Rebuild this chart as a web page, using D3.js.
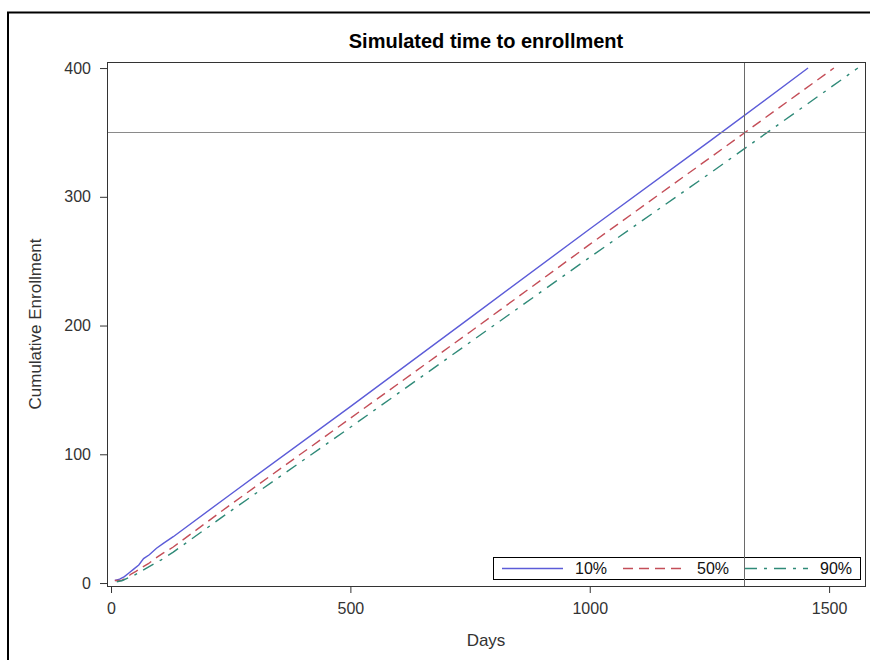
<!DOCTYPE html>
<html>
<head>
<meta charset="utf-8">
<script src="https://cdn.jsdelivr.net/npm/d3@7"></script>
<style>
  html, body { margin: 0; padding: 0; background: #fff; }
  svg { display: block; font-family: Arial, "Liberation Sans", sans-serif; }
</style>
</head>
<body>
<svg id="chart" width="870" height="660"></svg>
<script>
// ---- Data ----
const title = "Simulated time to enrollment";
const xLabel = "Days";
const yLabel = "Cumulative Enrollment";
const xTicks = [0, 500, 1000, 1500];
const yTicks = [0, 100, 200, 300, 400];
const seriesNames = ["10%", "50%", "90%"];

const days10 = [8, 18, 28, 38, 48, 58, 68, 80, 95, 110, 130, 250, 500, 750, 1000, 1250, 1456];
const enr10  = [2, 3, 5, 8, 11, 14, 19, 22, 27, 31, 36, 69, 137, 206, 275, 343, 400];

const days50 = [8, 22, 32, 42, 52, 64, 78, 92, 108, 130, 250, 500, 750, 1000, 1250, 1510];
const enr50  = [2, 2, 4, 7, 9, 12, 15, 19, 23, 28, 61, 128, 195, 263, 330, 400];

const days90 = [12, 24, 36, 48, 62, 76, 90, 105, 130, 250, 500, 750, 1000, 1250, 1560];
const enr90  = [1, 2, 4, 6, 9, 12, 15, 18, 24, 56, 121, 187, 253, 318, 400];

const refY = 350;   // horizontal reference line (target enrollment)
const refX = 1322;  // vertical reference line (median day reaching target)

// ---- Layout ----
const svg = d3.select("#chart");
const plot = { left: 107, right: 865, top: 62, bottom: 586 };

const x = d3.scaleLinear().domain([-8.4, 1575]).range([plot.left, plot.right]);
const y = d3.scaleLinear().domain([-2.3, 404.7]).range([plot.bottom, plot.top]);

// outer frame (cropped at right/bottom)
svg.append("rect")
  .attr("x", 8).attr("y", 12.5).attr("width", 900).attr("height", 700)
  .attr("fill", "none").attr("stroke", "#000").attr("stroke-width", 2);

// title
svg.append("text")
  .attr("x", (plot.left + plot.right) / 2).attr("y", 48)
  .attr("text-anchor", "middle")
  .attr("font-size", 20).attr("font-weight", "bold").attr("fill", "#000")
  .text(title);

// axes
const xAxis = d3.axisBottom(x).tickValues(xTicks).tickSize(7).tickPadding(10).tickFormat(d3.format("d"));
const yAxis = d3.axisLeft(y).tickValues(yTicks).tickSize(7).tickPadding(9).tickFormat(d3.format("d"));

const gx = svg.append("g").attr("transform", `translate(0,${plot.bottom})`).call(xAxis);
const gy = svg.append("g").attr("transform", `translate(${plot.left},0)`).call(yAxis);
[gx, gy].forEach(g => {
  g.select(".domain").remove();
  g.selectAll(".tick line").attr("stroke", "#333");
  g.selectAll(".tick text").attr("font-size", 16).attr("fill", "#333")
    .attr("font-family", "Arial, 'Liberation Sans', sans-serif");
});

// axis labels
svg.append("text")
  .attr("x", (plot.left + plot.right) / 2).attr("y", 646)
  .attr("text-anchor", "middle").attr("font-size", 17).attr("fill", "#333")
  .text(xLabel);
svg.append("text")
  .attr("transform", `translate(41,${(plot.top + plot.bottom) / 2}) rotate(-90)`)
  .attr("text-anchor", "middle").attr("font-size", 17).attr("fill", "#333")
  .text(yLabel);

// series
const colors = ["#5c5cd8", "#c44e58", "#2f8a78"];
const dashes = [null, "10,6", "12,7,3,7"];
const series = [
  { name: seriesNames[0], d: days10.map((v, i) => [v, enr10[i]]) },
  { name: seriesNames[1], d: days50.map((v, i) => [v, enr50[i]]) },
  { name: seriesNames[2], d: days90.map((v, i) => [v, enr90[i]]) }
];
const line = d3.line().x(d => x(d[0])).y(d => y(d[1]));
series.forEach((s, i) => {
  svg.append("path")
    .datum(s.d)
    .attr("d", line)
    .attr("fill", "none")
    .attr("stroke", colors[i])
    .attr("stroke-width", 1.4)
    .attr("stroke-dasharray", dashes[i]);
});

// legend
const lg = svg.append("g");
lg.append("rect")
  .attr("x", 493.5).attr("y", 557.5).attr("width", 367).attr("height", 22)
  .attr("fill", "#fff").attr("stroke", "#000").attr("stroke-width", 1);
const legItems = [
  { x1: 502, x2: 563, tx: 575 },
  { x1: 623, x2: 683, tx: 697 },
  { x1: 745, x2: 808, tx: 820 }
];
legItems.forEach((it, i) => {
  lg.append("line")
    .attr("x1", it.x1).attr("x2", it.x2).attr("y1", 568.5).attr("y2", 568.5)
    .attr("stroke", colors[i]).attr("stroke-width", 1.4)
    .attr("stroke-dasharray", dashes[i]);
  lg.append("text")
    .attr("x", it.tx).attr("y", 574)
    .attr("font-size", 16).attr("fill", "#111")
    .text(seriesNames[i]);
});

// reference lines
svg.append("line")
  .attr("x1", plot.left).attr("x2", plot.right)
  .attr("y1", Math.round(y(refY)) + 0.5).attr("y2", Math.round(y(refY)) + 0.5)
  .attr("stroke", "#8a8a8a").attr("stroke-width", 1);
svg.append("line")
  .attr("x1", Math.round(x(refX)) + 0.5).attr("x2", Math.round(x(refX)) + 0.5)
  .attr("y1", plot.top).attr("y2", plot.bottom)
  .attr("stroke", "#6a6a6a").attr("stroke-width", 1);

// plot frame
svg.append("rect")
  .attr("x", plot.left + 0.5).attr("y", plot.top + 0.5)
  .attr("width", plot.right - plot.left).attr("height", plot.bottom - plot.top)
  .attr("fill", "none").attr("stroke", "#333").attr("stroke-width", 1);
</script>
</body>
</html>
